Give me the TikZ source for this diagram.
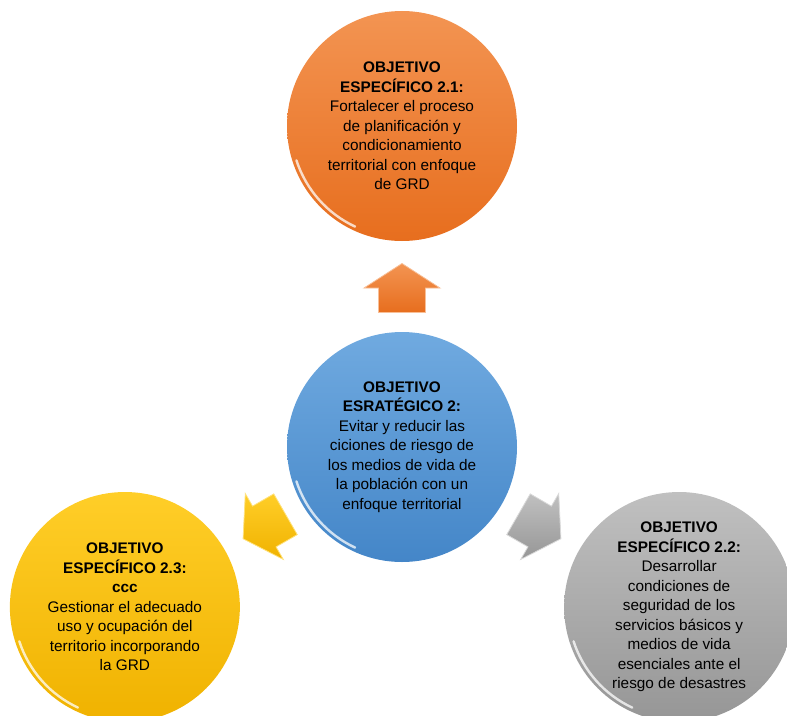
\documentclass[tikz,border=0pt]{standalone}
\usepackage{fontspec}
\setmainfont{Liberation Sans}
\definecolor{naranjaA}{RGB}{243,148,82}
\definecolor{naranjaB}{RGB}{231,110,30}
\definecolor{azulA}{RGB}{112,170,224}
\definecolor{azulB}{RGB}{68,134,200}
\definecolor{grisA}{RGB}{192,192,192}
\definecolor{grisB}{RGB}{150,150,150}
\definecolor{amarilloA}{RGB}{255,206,40}
\definecolor{amarilloB}{RGB}{240,178,0}
\newcommand{\ballsize}{172.5pt}
\newcommand{\armdist}{159}
\newcommand{\bigarrow}[3]{%
        \shade[shift={(#1:\armdist)}, rotate=#1, top color=#2, bottom color=#3, draw=#2!60!white, line width=0.6pt]
        (24.5,0) -- (0,38) -- (0,23.5) -- (-24.5,23.5) -- (-24.5,-23.5) -- (0,-23.5) -- (0,-38) -- cycle;}

\begin{document}
\begin{tikzpicture}[x=0.75pt, y=0.75pt,
        objetivo/.style={circle, minimum size=\ballsize, inner sep=0pt, align=center,
                font=\fontsize{11.5}{14.6}\selectfont},
        brillo/.style={white, line width=1.8pt, opacity=0.75, line cap=round}]
        \useasboundingbox (-402,-268) rectangle (385,447);
        \node[objetivo, top color=azulA, bottom color=azulB] (estrategico) at (0,0)
        {\textbf{OBJETIVO}\\ \textbf{ESRATÉGICO 2:}\\ Evitar y reducir las\\ ciciones de riesgo de\\
        los medios de vida de\\ la población con un\\ enfoque territorial};
        \node[objetivo, top color=naranjaA, bottom color=naranjaB] (esp21) at (90:321)
        {\textbf{OBJETIVO}\\ \textbf{ESPECÍFICO 2.1:}\\ Fortalecer el proceso\\ de planificación y\\
        condicionamiento\\ territorial con enfoque\\ de GRD};
        \node[objetivo, top color=grisA, bottom color=grisB] (esp22) at (330:320)
        {\textbf{OBJETIVO}\\ \textbf{ESPECÍFICO 2.2:}\\ Desarrollar\\ condiciones de\\ seguridad de los\\
        servicios básicos y\\ medios de vida\\ esenciales ante el\\ riesgo de desastres};
        \node[objetivo, top color=amarilloA, bottom color=amarilloB] (esp23) at (210:320)
        {\textbf{OBJETIVO}\\ \textbf{ESPECÍFICO 2.3:}\\ \textbf{ccc}\\ Gestionar el adecuado\\
        uso y ocupación del\\ territorio incorporando\\ la GRD};
        \foreach \n in {estrategico, esp21, esp22, esp23}
                \draw[brillo] ([shift={(198:111)}]\n.center) arc[start angle=198, end angle=245, radius=83.25pt];
        \bigarrow{90}{naranjaA}{naranjaB}
        \bigarrow{210}{amarilloA}{amarilloB}
        \bigarrow{330}{grisA}{grisB}
\end{tikzpicture}
\end{document}
